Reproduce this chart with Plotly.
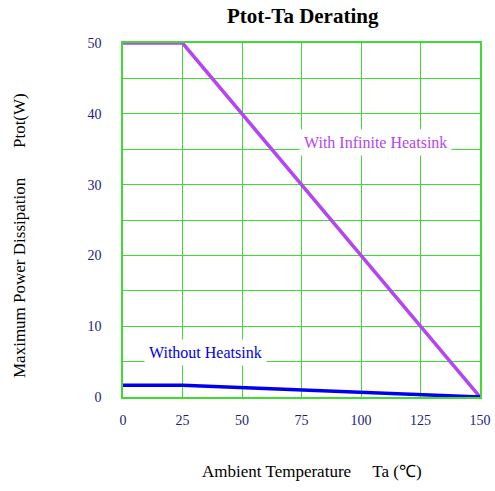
import plotly.graph_objects as go

temps_inf = [0, 25, 150]
ptot_inf = [50, 50, 0]
temps_no = [0, 25, 150]
ptot_no = [1.67, 1.67, 0]
x_ticks = [0, 25, 50, 75, 100, 125, 150]
y_ticks = [0, 10, 20, 30, 40, 50]

SERIF = "Liberation Serif, Times New Roman, serif"
GRID = "#3cdc30"
TICKC = "#1c1c78"

W, H = 495, 491
L, R, T, B = 123, 495 - 480, 43, 491 - 397

fig = go.Figure()
fig.add_trace(go.Scatter(x=temps_inf, y=ptot_inf, mode="lines",
                         line=dict(color="#b445f0", width=3.5), showlegend=False))
fig.add_trace(go.Scatter(x=temps_no, y=ptot_no, mode="lines",
                         line=dict(color="#0000ee", width=3.5), showlegend=False))

fig.update_layout(
    width=W, height=H,
    margin=dict(l=L, r=R, t=T, b=B, autoexpand=False),
    paper_bgcolor="white", plot_bgcolor="white",
    font=dict(family=SERIF, size=14, color=TICKC),
    xaxis=dict(range=[0, 150], tickvals=x_ticks, showgrid=True, gridcolor=GRID, gridwidth=1,
               zeroline=False, showline=True, linecolor=GRID, linewidth=1.5, mirror=True,
               ticks="", ticklabelstandoff=9, tickfont=dict(size=14, color=TICKC)),
    yaxis=dict(range=[0, 50], tickvals=y_ticks, showgrid=True, gridcolor=GRID, gridwidth=1,
               minor=dict(dtick=5, showgrid=True, gridcolor=GRID, gridwidth=1),
               zeroline=False, showline=True, linecolor=GRID, linewidth=1.5, mirror=True,
               ticks="", ticklabelstandoff=17, tickfont=dict(size=14, color=TICKC)),
)

fig.add_annotation(x=106, y=36, xref="x", yref="y", showarrow=False,
                   text="With Infinite Heatsink", bgcolor="white", borderpad=4,
                   font=dict(family=SERIF, size=16, color="#b445f0"))
fig.add_annotation(x=34.5, y=6.3, xref="x", yref="y", showarrow=False,
                   text="Without Heatsink", bgcolor="white", borderpad=4,
                   font=dict(family=SERIF, size=16, color="#0000ee"))

pixel_notes = [
    dict(px=302.5, py=16, text="<b>Ptot-Ta Derating</b>", size=21, angle=0),
    dict(px=312, py=472, text="Ambient Temperature\u00a0\u00a0\u00a0\u00a0\u00a0Ta (\u2103)", size=17, angle=0),
    dict(px=19, py=236, text="Maximum Power Dissipation" + "\u00a0" * 7 + "Ptot(W)", size=17, angle=-90),
]
pw, ph = W - L - R, H - T - B
for n in pixel_notes:
    fig.add_annotation(
        x=(n["px"] - L) / pw, y=(H - B - n["py"]) / ph,
        xref="paper", yref="paper", xanchor="center", yanchor="middle",
        showarrow=False, text=n["text"], textangle=n["angle"],
        font=dict(family=SERIF, size=n["size"], color="black"))

fig.write_html("out.html", config={"displayModeBar": False},
               post_script="document.body.style.margin='0';document.body.style.overflow='hidden';")
